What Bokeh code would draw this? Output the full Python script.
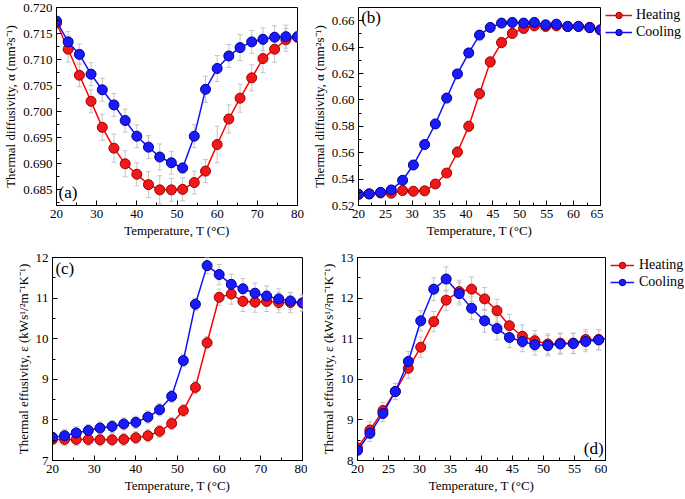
from bokeh.plotting import figure
from bokeh.models import (Range1d, SingleIntervalTicker, NumeralTickFormatter,
                          Whisker, TeeHead, ColumnDataSource, Legend, LegendItem, Label)
from bokeh.layouts import column, row
from bokeh.embed import file_html
from bokeh.resources import INLINE

# ---------------- data ----------------
# (a) thermal diffusivity vs temperature (20-80 C)
xa = [20.0, 22.9, 25.7, 28.6, 31.4, 34.3, 37.1, 40.0, 42.9, 45.7, 48.6,
      51.4, 54.3, 57.1, 60.0, 62.9, 65.7, 68.6, 71.4, 74.3, 77.1, 80.0]
a_heat = [0.7170, 0.7120, 0.7070, 0.7020, 0.6970, 0.6930, 0.6900, 0.6880, 0.6860, 0.6850, 0.6850,
          0.6851, 0.6864, 0.6886, 0.6937, 0.6986, 0.7026, 0.7065, 0.7102, 0.7120, 0.7138, 0.7143]
a_heat_err = [0.0005, 0.0025, 0.0022, 0.0022, 0.0025, 0.0027, 0.0025, 0.0022, 0.0025, 0.0027, 0.0022,
              0.0022, 0.0022, 0.0022, 0.0035, 0.0027, 0.0027, 0.0025, 0.0027, 0.0025, 0.0022, 0.0010]
a_cool = [0.7174, 0.7134, 0.7110, 0.7072, 0.7042, 0.7013, 0.6983, 0.6953, 0.6932, 0.6913, 0.6902,
          0.6892, 0.6953, 0.7043, 0.7083, 0.7107, 0.7123, 0.7134, 0.7139, 0.7143, 0.7144, 0.7144]
a_cool_err = [0.0005, 0.0020, 0.0020, 0.0022, 0.0022, 0.0022, 0.0022, 0.0022, 0.0022, 0.0025, 0.0022,
              0.0010, 0.0022, 0.0025, 0.0025, 0.0022, 0.0025, 0.0022, 0.0022, 0.0022, 0.0022, 0.0010]

# (b) thermal diffusivity vs temperature (20-65 C)
xb = [20.0, 22.0, 24.1, 26.1, 28.2, 30.2, 32.3, 34.3, 36.4, 38.4, 40.5, 42.5,
      44.5, 46.6, 48.6, 50.7, 52.7, 54.8, 56.8, 58.9, 60.9, 63.0, 65.0]
b_heat = [0.5285, 0.5288, 0.5295, 0.5293, 0.5313, 0.5308, 0.5311, 0.5363, 0.5446, 0.5605, 0.5800, 0.6047,
          0.6288, 0.6434, 0.6504, 0.6542, 0.6562, 0.6557, 0.6562, 0.6555, 0.6557, 0.6550, 0.6530]
b_heat_err = [0.002, 0.003, 0.003, 0.003, 0.003, 0.003, 0.003, 0.003, 0.003, 0.004, 0.004, 0.004,
              0.004, 0.004, 0.004, 0.004, 0.004, 0.004, 0.004, 0.003, 0.003, 0.003, 0.003]
b_cool = [0.5285, 0.5288, 0.5300, 0.5318, 0.5391, 0.5507, 0.5662, 0.5818, 0.6014, 0.6197, 0.6356, 0.6491,
          0.6549, 0.6582, 0.6587, 0.6582, 0.6587, 0.6569, 0.6574, 0.6557, 0.6557, 0.6547, 0.6530]
b_cool_err = [0.002, 0.003, 0.003, 0.003, 0.003, 0.003, 0.003, 0.003, 0.003, 0.003, 0.003, 0.003,
              0.003, 0.003, 0.003, 0.003, 0.003, 0.003, 0.003, 0.003, 0.003, 0.003, 0.003]

# (c) thermal effusivity vs temperature (20-80 C)
xc = xa
c_heat = [7.52, 7.52, 7.52, 7.52, 7.51, 7.51, 7.52, 7.56, 7.61, 7.72, 7.91,
          8.23, 8.80, 9.90, 11.02, 11.10, 10.92, 10.90, 10.92, 10.89, 10.89, 10.88]
c_heat_err = [0.10, 0.15, 0.15, 0.15, 0.15, 0.15, 0.15, 0.15, 0.15, 0.15, 0.15,
              0.15, 0.15, 0.15, 0.20, 0.25, 0.25, 0.25, 0.25, 0.25, 0.25, 0.20]
c_cool = [7.57, 7.61, 7.68, 7.74, 7.80, 7.84, 7.90, 7.94, 8.07, 8.25, 8.58,
          9.46, 10.85, 11.80, 11.58, 11.34, 11.23, 11.12, 11.05, 10.98, 10.93, 10.88]
c_cool_err = [0.10, 0.15, 0.15, 0.15, 0.15, 0.15, 0.15, 0.15, 0.15, 0.15, 0.15,
              0.15, 0.15, 0.20, 0.25, 0.25, 0.25, 0.25, 0.25, 0.25, 0.20, 0.20]

# (d) thermal effusivity vs temperature (20-60 C)
xd_heat = [20.0, 22.0, 24.1, 26.1, 28.2, 30.2, 32.3, 34.3, 36.4, 38.4,
           40.5, 42.5, 44.5, 46.6, 48.6, 50.7, 52.7, 54.8, 56.8, 58.9]
d_heat = [8.31, 8.75, 9.23, 9.70, 10.27, 10.79, 11.42, 11.95, 12.16, 12.22,
          11.98, 11.69, 11.32, 11.06, 10.95, 10.87, 10.89, 10.89, 10.98, 10.98]
d_heat_err = [0.10, 0.20, 0.20, 0.20, 0.25, 0.25, 0.25, 0.25, 0.28, 0.30,
              0.28, 0.28, 0.28, 0.28, 0.25, 0.25, 0.25, 0.25, 0.25, 0.25]
xd_cool = [20.0, 22.0, 24.1, 26.1, 28.2, 30.2, 32.3, 34.3, 36.4, 38.4,
           40.5, 42.5, 44.5, 46.6, 48.6, 50.7, 52.7, 54.8, 56.8, 58.9, 60.9]
d_cool = [8.25, 8.67, 9.16, 9.70, 10.44, 11.44, 12.22, 12.47, 12.11, 11.75,
          11.44, 11.25, 11.03, 10.93, 10.85, 10.83, 10.87, 10.88, 10.93, 10.97, 11.03]
d_cool_err = [0.10, 0.20, 0.20, 0.20, 0.25, 0.25, 0.28, 0.30, 0.28, 0.28,
              0.28, 0.28, 0.25, 0.25, 0.25, 0.25, 0.25, 0.25, 0.25, 0.25, 0.25]

series_labels = ["Heating", "Cooling"]
x_label = "Temperature, T (°C)"
y_label_diff = "Thermal diffusivity, α (mm²s⁻¹)"
y_label_eff = "Thermal effusivity, ε (kWs¹/²m⁻¹K⁻¹)"

# ---------------- style ----------------
FONT = "Liberation Serif"
RED, RED_FILL, RED_EDGE = "#ff0000", "#f01818", "#a00000"
BLUE, BLUE_FILL, BLUE_EDGE = "#1010ff", "#1a1aff", "#000090"
ERR = "#c4c4c4"


def style_axis(ax, interval, fmt=None):
    ax.ticker = SingleIntervalTicker(interval=interval, num_minor_ticks=2)
    if fmt is not None:
        ax.formatter = NumeralTickFormatter(format=fmt)
    ax.major_tick_in = 5
    ax.major_tick_out = 0
    ax.minor_tick_in = 3
    ax.minor_tick_out = 0
    ax.axis_line_color = "black"
    ax.major_tick_line_color = "black"
    ax.minor_tick_line_color = "black"
    ax.major_label_text_font = FONT
    ax.major_label_text_color = "black"
    ax.major_label_text_font_size = "13px"
    ax.major_label_standoff = 4
    ax.axis_label_text_font = FONT
    ax.axis_label_text_font_style = "normal"
    ax.axis_label_text_font_size = "13px"
    ax.axis_label_text_color = "black"
    ax.axis_label_standoff = 2


def make_fig(width, height, left, right, top, bottom, xr, yr, xint, yint, yfmt, ylabel):
    p = figure(width=width, height=height, x_range=Range1d(*xr), y_range=Range1d(*yr),
               output_backend="svg", toolbar_location=None,
               min_border_left=left, min_border_right=right,
               min_border_top=top, min_border_bottom=bottom,
               x_axis_label=x_label, y_axis_label=ylabel)
    p.xgrid.visible = False
    p.ygrid.visible = False
    p.outline_line_color = "black"
    p.background_fill_color = "white"
    p.border_fill_color = "white"
    style_axis(p.xaxis[0], xint, None)
    style_axis(p.yaxis[0], yint, yfmt)
    return p


def add_series(p, x, y, err, line_color, fill, edge):
    src = ColumnDataSource(dict(x=x, y=y,
                                lo=[v - e for v, e in zip(y, err)],
                                hi=[v + e for v, e in zip(y, err)]))
    w = Whisker(source=src, base="x", upper="hi", lower="lo",
                line_color=ERR, line_width=1, level="underlay",
                upper_head=TeeHead(size=5, line_color=ERR, line_width=1),
                lower_head=TeeHead(size=5, line_color=ERR, line_width=1))
    p.add_layout(w)
    p.line("x", "y", source=src, line_color=line_color, line_width=1.5)
    p.scatter("x", "y", source=src, size=10, fill_color=fill, line_color=edge, line_width=1)


def legend_fig(width, height, left_pad, top_pad, glyph_w, standoff, xs, ys):
    # narrow, axis-free figure that only holds the key for the panel on its left;
    # its series renderers are hidden and serve only as legend glyph sources
    q = figure(width=width, height=height, x_range=Range1d(0, 1), y_range=Range1d(0, 1),
               output_backend="svg", toolbar_location=None,
               min_border_left=left_pad, min_border_right=0, min_border_top=top_pad,
               min_border_bottom=0)
    q.axis.visible = False
    q.xgrid.visible = False
    q.ygrid.visible = False
    q.outline_line_color = None
    q.background_fill_color = "white"
    q.border_fill_color = "white"
    items = []
    for lab, lc, fc, ec, xv, yv in zip(series_labels, [RED, BLUE], [RED_FILL, BLUE_FILL],
                                       [RED_EDGE, BLUE_EDGE], xs, ys):
        src = ColumnDataSource(dict(x=xv, y=yv))
        ln = q.line("x", "y", source=src, line_color=lc, line_width=1.5, visible=False)
        sc = q.scatter("x", "y", source=src, size=10, fill_color=fc, line_color=ec,
                       line_width=1, visible=False)
        items.append(LegendItem(label=lab, renderers=[ln, sc]))
    lg = Legend(items=items, location="top_left", margin=0, padding=0,
                border_line_alpha=0, background_fill_alpha=0, inactive_fill_alpha=0,
                glyph_width=glyph_w, glyph_height=16, label_height=16, spacing=1,
                label_standoff=standoff, label_text_font=FONT, label_text_font_size="14px",
                label_text_color="black")
    q.add_layout(lg)
    return q


def panel_label(p, text, x, y, align, baseline):
    p.add_layout(Label(x=x, y=y, text=text, text_font=FONT, text_font_size="17px",
                       text_align=align, text_baseline=baseline, text_color="black"))


H1, H2 = 245, 252

# (a)
pa = make_fig(306, H1, 55, 9, 7, 40, (20, 80), (0.682, 0.720), 10, 0.005, "0.000", y_label_diff)
add_series(pa, xa, a_heat, a_heat_err, RED, RED_FILL, RED_EDGE)
add_series(pa, xa, a_cool, a_cool_err, BLUE, BLUE_FILL, BLUE_EDGE)
panel_label(pa, "(a)", 20.5, 0.6826, "left", "bottom")

# (b)
pb = make_fig(297, H1, 52, 3, 7, 40, (20, 65), (0.52, 0.67), 5, 0.02, "0.00", y_label_diff)
add_series(pb, xb, b_heat, b_heat_err, RED, RED_FILL, RED_EDGE)
add_series(pb, xb, b_cool, b_cool_err, BLUE, BLUE_FILL, BLUE_EDGE)
panel_label(pb, "(b)", 20.5, 0.6695, "left", "top")
lb = legend_fig(80, H1, 2, 0, 27, 4, [xb, xb], [b_heat, b_cool])

# (c)
pc = make_fig(307, H2, 52, 5, 12, 37, (20, 80), (7, 12), 10, 1, "0", y_label_eff)
add_series(pc, xc, c_heat, c_heat_err, RED, RED_FILL, RED_EDGE)
add_series(pc, xc, c_cool, c_cool_err, BLUE, BLUE_FILL, BLUE_EDGE)
panel_label(pc, "(c)", 20.7, 11.97, "left", "top")

# (d)
pd_ = make_fig(300, H2, 50, 2, 12, 37, (20, 60), (8, 13), 5, 1, "0", y_label_eff)
add_series(pd_, xd_heat, d_heat, d_heat_err, RED, RED_FILL, RED_EDGE)
add_series(pd_, xd_cool, d_cool, d_cool_err, BLUE, BLUE_FILL, BLUE_EDGE)
panel_label(pd_, "(d)", 59.7, 8.06, "right", "bottom")
ld = legend_fig(77, H2, 3, 10, 24, 5, [xd_heat, xd_cool], [d_heat, d_cool])

layout = column(row(pa, pb, lb), row(pc, pd_, ld))
open("out.html", "w").write(file_html(layout, INLINE))
